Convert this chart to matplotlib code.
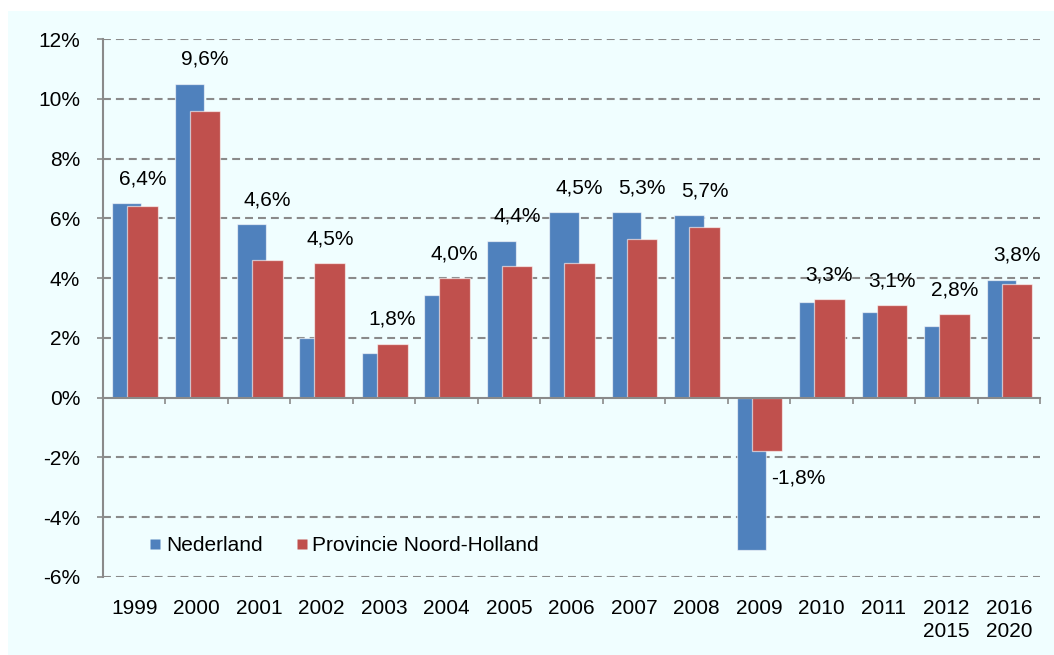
import matplotlib
matplotlib.use("Agg")
import matplotlib.pyplot as plt
from matplotlib.patches import Rectangle
from matplotlib.lines import Line2D
import numpy as np

categories = ["1999", "2000", "2001", "2002", "2003", "2004", "2005", "2006",
              "2007", "2008", "2009", "2010", "2011", "2012\n2015", "2016\n2020"]
nederland = [6.5, 10.5, 5.8, 2.0, 1.5, 3.45, 5.25, 6.2, 6.2, 6.1, -5.1, 3.2, 2.85, 2.4, 3.95]
noord_holland = [6.4, 9.6, 4.6, 4.5, 1.8, 4.0, 4.4, 4.5, 5.3, 5.7, -1.8, 3.3, 3.1, 2.8, 3.8]
series_names = ["Nederland", "Provincie Noord-Holland"]
yticks = [-6, -4, -2, 0, 2, 4, 6, 8, 10, 12]

plt.rcParams['font.family'] = ['Liberation Sans', 'DejaVu Sans']
FS = 15
BLUE = "#4F81BD"
RED = "#C0504D"
GRID = "#8A8A8A"
BG = "#F0FEFF"

fig = plt.figure(figsize=(10.54, 6.55), dpi=100)
fig.patches.append(Rectangle((8 / 1054, 0), 1 - 8 / 1054, 1 - 11 / 655,
                             transform=fig.transFigure, facecolor=BG,
                             edgecolor="none", zorder=-10))
ax = fig.add_axes([103 / 1054, 1 - 577 / 655, (1040 - 103) / 1054, (577 - 39) / 655])
ax.set_facecolor("none")

x = np.arange(len(categories)) + 0.5
ax.bar(x - 0.12, nederland, width=0.47, color=BLUE, edgecolor=(1, 1, 1, 0.6),
       linewidth=0.9, zorder=3, label=series_names[0])
ax.bar(x + 0.13, noord_holland, width=0.49, color=RED, edgecolor=(1, 1, 1, 0.6),
       linewidth=0.9, zorder=4, label=series_names[1])

def fmt(v):
    return f"{v:.1f}%".replace(".", ",")

for i, (b, r) in enumerate(zip(nederland, noord_holland)):
    if r < 0:
        ax.text(x[i] + 0.2, r - 0.9, fmt(r), ha="left", va="center", fontsize=FS, zorder=6)
    else:
        top = max(b, r, 0)
        ax.text(x[i] + 0.13, top + 0.5, fmt(r), ha="center", va="bottom", fontsize=FS, zorder=6)

ax.set_xlim(0, len(categories))
ax.set_ylim(-6, 12)
ax.set_yticks(yticks)
ax.set_yticklabels([f"{t}%" for t in yticks], fontsize=FS)
ax.tick_params(axis="y", direction="out", length=4.5, width=1.2, color=GRID, pad=12)

# horizontal dashed gridlines
for t in yticks:
    if t != 0:
        ax.axhline(t, color=GRID, linewidth=1.5, dashes=(3.8, 2.4), zorder=1)

for s in ["top", "right"]:
    ax.spines[s].set_visible(False)
ax.spines["left"].set_color(GRID)
ax.spines["left"].set_linewidth(1.5)
ax.spines["bottom"].set_position(("data", 0))
ax.spines["bottom"].set_color(GRID)
ax.spines["bottom"].set_linewidth(1.5)
ax.spines["bottom"].set_zorder(5)
ax.set_xticks(np.arange(len(categories) + 1))
ax.set_xticklabels([])
ax.tick_params(axis="x", direction="out", length=4.5, width=1.2, color=GRID)

sec = ax.secondary_xaxis(0)
sec.set_xticks(x)
sec.set_xticklabels(categories, fontsize=FS, linespacing=1.25)
sec.tick_params(length=0, pad=16)
sec.spines["bottom"].set_visible(False)

handles = [Line2D([], [], marker="s", linestyle="none", markersize=7,
                  markerfacecolor=c, markeredgecolor="none") for c in (BLUE, RED)]
ax.legend(handles, series_names, loc="center left", bbox_to_anchor=(0.027, 0.058),
          ncol=2, frameon=False, fontsize=FS, handletextpad=0.1, columnspacing=1.5,
          handlelength=0.8)

fig.savefig("out.png", dpi=100, facecolor="white")
